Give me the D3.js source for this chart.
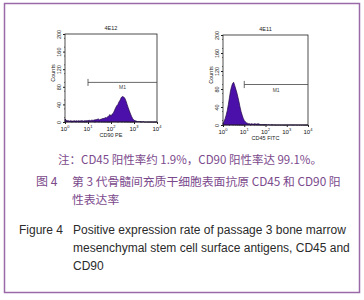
<!DOCTYPE html>
<html>
<head>
<meta charset="utf-8">
<script src="https://cdn.jsdelivr.net/npm/d3@7"></script>
<style>
  body { margin: 0; background: #fff; }
  svg text { font-family: "Liberation Sans", Arial, sans-serif; }
</style>
</head>
<body>
<div id="chart"></div>
<script>
const W = 364, H = 300

// log10 channel positions of histogram bins (0 .. 4, step 0.05)
const binLog = d3.range(0, 4.001, 0.05)

// CD90 PE histogram counts (tube 4E12)
const cd90Counts = [
  7, 4, 3, 3, 2, 3, 2, 2, 3, 2,
  3, 2, 3, 2, 3, 3, 2, 3, 3, 3,
  3, 4, 3, 4, 4, 4, 5, 5, 6, 7,
  5, 6, 7, 8, 8, 10, 9, 12, 13, 17,
  13, 18, 20, 26, 32, 37, 40, 46, 50, 56,
  58, 57, 54, 48, 40, 32, 25, 18, 12, 7,
  4, 3, 2, 1, 1, 1, 1, 0, 1, 0,
  0, 0, 0, 0, 0, 0, 0, 0, 0, 0, 0
]

// CD45 FITC histogram counts (tube 4E11)
const cd45Counts = [
  4, 8, 14, 22, 32, 45, 60, 75, 85, 92,
  95, 88, 80, 72, 62, 52, 40, 30, 22, 15,
  10, 7, 5, 4, 3, 3, 2, 3, 2, 2,
  3, 2, 2, 3, 2, 1, 1, 1, 1, 1,
  1, 1, 0, 1, 0, 0, 1, 0, 0, 0,
  0, 0, 0, 0, 0, 0, 0, 0, 0, 0,
  0, 0, 0, 0, 0, 0, 0, 0, 0, 0,
  0, 0, 0, 0, 0, 0, 0, 0, 0, 0, 0
]

const yTicks = [0, 40, 80, 120, 160, 200]
const xDecades = [0, 1, 2, 3, 4]

// marker M1: from 10^1 to 10^4 at this count level
const gateFrom = 1, gateTo = 4, gateLevel = 90

const noteText = "注：CD45 阳性率约 1.9%，CD90 阳性率达 99.1%。"
const cnCaption = ["第 3 代骨髓间充质干细胞表面抗原 CD45 和 CD90 阳", "性表达率"]
const enCaption = ["Positive expression rate of passage 3 bone marrow",
  "mesenchymal stem cell surface antigens, CD45 and", "CD90"]

const panels = [
  {title: "4E12", xLabel: "CD90 PE", counts: cd90Counts, x0: 65, x1: 157, y0: 34, y1: 122},
  {title: "4E11", xLabel: "CD45 FITC", counts: cd45Counts, x0: 223, x1: 308, y0: 35, y1: 125}
]

const svg = d3.select("#chart")
  .append("svg")
  .attr("width", W)
  .attr("height", H)

// purple frame
svg.append("rect")
  .attr("x", 4.5).attr("y", 3.5)
  .attr("width", 355).attr("height", 289)
  .style("fill", "none")
  .style("stroke", "#9a6aa8")
  .style("stroke-width", 1.5)

panels.forEach(function(p) {
  const x = d3.scaleLinear().domain([0, 4]).range([p.x0, p.x1])
  const y = d3.scaleLinear().domain([0, 200]).range([p.y1, p.y0])
  const g = svg.append("g")

  // histogram
  const area = d3.area()
    .x(function(d, i) { return x(binLog[i]) })
    .y0(y(0))
    .y1(function(d) { return y(d) })
    .curve(d3.curveLinear)

  g.append("path")
    .datum(p.counts)
    .attr("d", area)
    .style("fill", "#4c10aa")
    .style("stroke", "#220845")
    .style("stroke-width", 0.7)

  // box
  g.append("rect")
    .attr("x", p.x0).attr("y", p.y0)
    .attr("width", p.x1 - p.x0).attr("height", p.y1 - p.y0)
    .style("fill", "none")
    .style("stroke", "#222")
    .style("stroke-width", 0.8)

  // y axis
  const yAxis = d3.axisLeft(y).tickValues(yTicks).tickSize(2).tickFormat(d3.format("d"))
  const ya = g.append("g").attr("transform", `translate(${p.x0},0)`).call(yAxis)
  ya.select(".domain").remove()
  ya.selectAll("line").style("stroke", "#222")
  ya.selectAll(".tick text")
    .attr("font-size", "5.5px")
    .attr("fill", "#222")
    .attr("x", 0).attr("y", 0).attr("dy", 0)
    .attr("transform", "rotate(-90) translate(0,-4)")
    .style("text-anchor", "middle")
  // minor y ticks
  g.selectAll(".ymin")
    .data(d3.range(10, 200, 20))
    .join("line")
    .attr("x1", p.x0 - 1).attr("x2", p.x0)
    .attr("y1", function(d) { return y(d) }).attr("y2", function(d) { return y(d) })
    .style("stroke", "#222").style("stroke-width", 0.6)

  // x axis (log decades)
  const xa = g.append("g").attr("transform", `translate(0,${p.y1})`)
    .call(d3.axisBottom(x).tickValues(xDecades).tickSize(2).tickFormat(""))
  xa.select(".domain").remove()
  xa.selectAll("line").style("stroke", "#222")
  const minor = []
  xDecades.slice(0, -1).forEach(function(k) {
    d3.range(2, 10).forEach(function(m) { minor.push(k + Math.log10(m)) })
  })
  g.selectAll(".xmin")
    .data(minor)
    .join("line")
    .attr("x1", function(d) { return x(d) }).attr("x2", function(d) { return x(d) })
    .attr("y1", p.y1).attr("y2", p.y1 + 1)
    .style("stroke", "#222").style("stroke-width", 0.5)

  const lab = g.selectAll(".xl")
    .data(xDecades)
    .join("text")
    .attr("x", function(d) { return x(d) })
    .attr("y", p.y1 + 9)
    .attr("font-size", "6px")
    .attr("fill", "#111")
    .style("text-anchor", "middle")
  lab.append("tspan").text("10")
  lab.append("tspan").text(function(d) { return d }).attr("dy", -3).attr("font-size", "4px")

  // titles
  g.append("text")
    .attr("x", (p.x0 + p.x1) / 2).attr("y", p.y0 - 4)
    .text(p.title)
    .attr("font-size", "5.5px").attr("fill", "#222")
    .style("text-anchor", "middle")
  g.append("text")
    .attr("x", (p.x0 + p.x1) / 2).attr("y", p.y1 + 15)
    .text(p.xLabel)
    .attr("font-size", "5.5px").attr("fill", "#222")
    .style("text-anchor", "middle")
  g.append("text")
    .attr("transform", `translate(${p.x0 - 10},${(p.y0 + p.y1) / 2 - 5}) rotate(-90)`)
    .text("Counts")
    .attr("font-size", "5.5px").attr("fill", "#222")
    .style("text-anchor", "middle")

  // marker M1
  g.append("line")
    .attr("x1", x(gateFrom)).attr("x2", x(gateTo))
    .attr("y1", y(gateLevel)).attr("y2", y(gateLevel))
    .style("stroke", "#444").style("stroke-width", 0.8)
  g.append("line")
    .attr("x1", x(gateFrom)).attr("x2", x(gateFrom))
    .attr("y1", y(gateLevel + 8)).attr("y2", y(gateLevel - 8))
    .style("stroke", "#444").style("stroke-width", 0.8)
  g.append("text")
    .attr("x", x((gateFrom + gateTo) / 2)).attr("y", y(gateLevel) + 7)
    .text("M1")
    .attr("font-size", "5px").attr("fill", "#444")
    .style("text-anchor", "middle")
})

// captions
const cnFont = "'Noto Sans CJK SC', 'Liberation Sans', sans-serif"

svg.append("text")
  .attr("x", 190).attr("y", 164)
  .text(noteText)
  .attr("font-size", "11.5px")
  .attr("fill", "#7b4a8c")
  .style("font-family", cnFont)
  .style("text-anchor", "middle")

svg.append("text")
  .attr("x", 36).attr("y", 186)
  .text("图 4")
  .attr("font-size", "12px")
  .attr("fill", "#7b4a8c")
  .style("font-family", cnFont)

svg.selectAll(".cn")
  .data(cnCaption)
  .join("text")
  .attr("x", 72)
  .attr("y", function(d, i) { return 186 + i * 18 })
  .text(function(d) { return d })
  .attr("font-size", "11.8px")
  .attr("fill", "#7b4a8c")
  .style("font-family", cnFont)

svg.append("text")
  .attr("x", 19).attr("y", 234)
  .text("Figure 4")
  .attr("font-size", "12px")
  .attr("fill", "#2a2a2a")

svg.selectAll(".en")
  .data(enCaption)
  .join("text")
  .attr("x", 73)
  .attr("y", function(d, i) { return 234 + i * 18 })
  .text(function(d) { return d })
  .attr("font-size", "12px")
  .attr("fill", "#2a2a2a")
</script>
</body>
</html>
